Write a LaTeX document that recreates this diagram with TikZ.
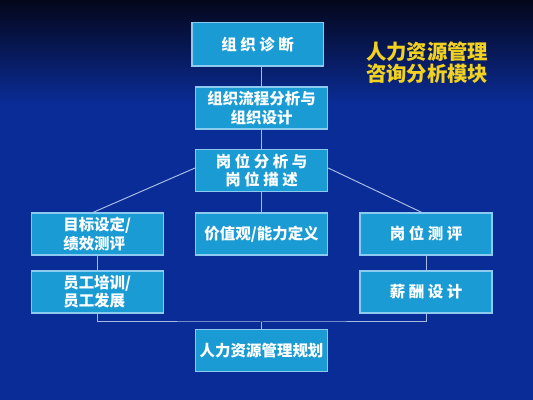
\documentclass[tikz,border=0pt]{standalone}
\usepackage{fontspec}
\newfontfamily\cjk{Noto Sans CJK SC}
\usepackage{tikz}
\usetikzlibrary{positioning}

\definecolor{bgtop}{HTML}{04061A}
\definecolor{bgblue}{HTML}{0A2C96}
\definecolor{boxfill}{HTML}{1B9BD4}
\definecolor{boxline}{HTML}{8CCBEF}
\definecolor{linkline}{HTML}{A8BCE4}
\definecolor{titleyellow}{HTML}{F2D21E}

\begin{document}
\begin{tikzpicture}[every node/.style={font=\cjk\bfseries\fontsize{11}{13}\selectfont, text=white},
    box/.style={draw=boxline, line width=0.8pt, fill=boxfill, minimum width=3.3cm, minimum height=1.05cm, inner sep=1pt},
    link/.style={draw=linkline, line width=0.7pt}]
			% background
			\shade[top color=bgtop, bottom color=bgblue] (0,7.4) rectangle (13.325,10);
			\fill[bgblue] (0,0) rectangle (13.325,7.4);
			\useasboundingbox (0,0) rectangle (13.325,10);
			
			\node[box, minimum width=3.28cm, minimum height=1.08cm] (zd) at (6.44,8.89) {组 织 诊 断};
			\node[box, align=center] (lc) at (6.54,7.30) {组织流程分析与\\组织设计};
			\node[box, align=center] (gw) at (6.54,5.73) {岗 位 分 析 与\\岗 位 描 述};
			
			\node[box, align=left] (mb) at (2.43,4.15) {目标设定/\\绩效测评};
			\node[box] (jz) at (6.54,4.15) {价值观/能力定义};
			\node[box] (gp) at (10.65,4.15) {岗 位 测 评};
			
			\node[box, align=left] (yg) at (2.43,2.70) {员工培训/\\员工发展};
			\node[box] (xc) at (10.65,2.70) {薪 酬 设 计};
			
			\node[box] (gh) at (6.54,1.23) {人力资源管理规划};
			
			\node[align=left, text=titleyellow, font=\cjk\bfseries\fontsize{14.5}{15.5}\selectfont] (title) at (10.68,8.43) {人力资源管理\\咨询分析模块};
			
			\coordinate (bus) at (6.54,1.95);
			\draw[link] (zd.south -| lc.north) -- (lc.north);
			\draw[link] (lc) -- (gw);
			\draw[link] (gw) -- (jz);
			\draw[link] ([yshift=2pt]gw.west) -- ([xshift=-3pt]mb.north);
			\draw[link] ([yshift=2pt]gw.east) -- ([xshift=-3pt]gp.north);
			\draw[link] (mb) -- (yg);
			\draw[link] (gp) -- (xc);
			\draw[link] (yg.south) |- (bus) -| (xc.south);
			\draw[link] (bus) -- (gh.north);
		\end{tikzpicture}
\end{document}
